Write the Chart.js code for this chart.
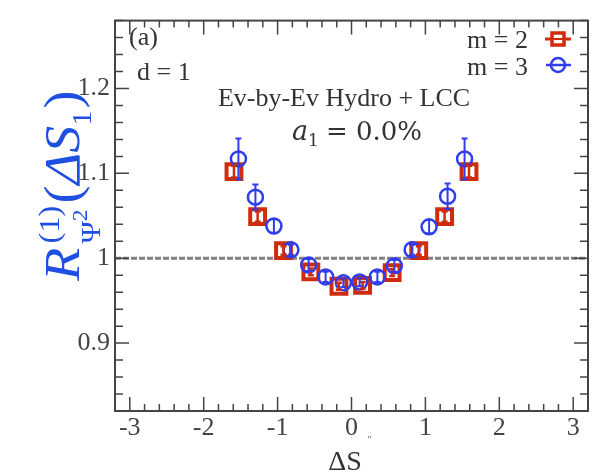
<!DOCTYPE html>
<html>
<head>
<meta charset="utf-8">
<script src="https://cdn.jsdelivr.net/npm/chart.js@4"></script>
<style>
  body { margin: 0; background: #fff; }
  #wrap { width: 603px; height: 476px; }
</style>
</head>
<body>
<div id="wrap"><canvas id="chart" width="603" height="476"></canvas></div>
<script>
// m = 2 (red squares)
const xM2 = [-1.59, -1.27, -0.92, -0.55, -0.17, 0.15, 0.55, 0.91, 1.26, 1.59];
const yM2 = [1.102, 1.049, 1.009, 0.984, 0.967, 0.968, 0.983, 1.009, 1.049, 1.102];
const errM2 = [0.007, 0.006, 0.005, 0.004, 0.004, 0.004, 0.004, 0.005, 0.006, 0.007];
// m = 3 (blue circles)
const xM3 = [-1.53, -1.30, -1.05, -0.82, -0.58, -0.35, -0.11, 0.11, 0.35, 0.58, 0.82, 1.05, 1.30, 1.53];
const yM3 = [1.117, 1.072, 1.038, 1.010, 0.992, 0.978, 0.971, 0.972, 0.978, 0.991, 1.010, 1.037, 1.073, 1.117];
const errM3 = [0.024, 0.015, 0.008, 0.006, 0.007, 0.006, 0.005, 0.005, 0.006, 0.007, 0.006, 0.008, 0.015, 0.024];

const xRange = [-3.2, 3.2];
const yRange = [0.82, 1.28];
const refLine = 1.0;

const RED = '#cf2c0c';
const BLUE = '#2f3cf0';
const AXIS = '#444';
const SERIF = "'Liberation Serif', 'Times New Roman', serif";
const MATH = "'DejaVu Serif', serif";

function toPoints(xs, ys) {
    return xs.map((x, i) => ({ x: x, y: ys[i] }));
}

// frame, inner ticks, dashed reference line
const framePlugin = {
    id: 'frame',
    beforeDatasetsDraw(chart) {
        const { ctx, chartArea: a, scales } = chart;
        const yp = scales.y.getPixelForValue(refLine);
        ctx.save();
        ctx.strokeStyle = '#808080';
        ctx.lineWidth = 3;
        ctx.setLineDash([6, 2]);
        ctx.beginPath();
        ctx.moveTo(a.left, yp);
        ctx.lineTo(a.right, yp);
        ctx.stroke();
        ctx.restore();
    },
    afterDraw(chart) {
        const { ctx, chartArea: a, scales } = chart;
        ctx.save();
        ctx.strokeStyle = AXIS;
        ctx.lineWidth = 2;
        ctx.strokeRect(a.left, a.top, a.right - a.left, a.bottom - a.top);
        ctx.lineWidth = 1.5;
        ctx.beginPath();
        for (let i = -16; i <= 16; i++) {
            const v = i * 0.2;
            const px = scales.x.getPixelForValue(v);
            const len = (i % 5 === 0) ? 14 : 7;
            ctx.moveTo(px, a.bottom); ctx.lineTo(px, a.bottom - len);
            ctx.moveTo(px, a.top); ctx.lineTo(px, a.top + len);
        }
        for (let i = 41; i <= 64; i++) {
            const v = i * 0.02;
            const py = scales.y.getPixelForValue(v);
            const len = (i % 5 === 0) ? 14 : 8;
            ctx.moveTo(a.left, py); ctx.lineTo(a.left + len, py);
            ctx.moveTo(a.right, py); ctx.lineTo(a.right - len, py);
        }
        ctx.stroke();
        ctx.restore();
    }
};

// vertical error bars drawn through the markers
const errorBarPlugin = {
    id: 'errorBars',
    afterDatasetsDraw(chart) {
        const { ctx, scales } = chart;
        const sets = [[xM2, yM2, errM2, RED, 2.5], [xM3, yM3, errM3, BLUE, 2]];
        ctx.save();
        sets.forEach(([xs, ys, es, col, w]) => {
            ctx.strokeStyle = col;
            ctx.lineWidth = w;
            xs.forEach((x, i) => {
                const px = scales.x.getPixelForValue(x);
                const top = scales.y.getPixelForValue(ys[i] + es[i]);
                const bot = scales.y.getPixelForValue(ys[i] - es[i]);
                ctx.beginPath();
                ctx.moveTo(px, top); ctx.lineTo(px, bot);
                ctx.moveTo(px - 3, top); ctx.lineTo(px + 3, top);
                ctx.moveTo(px - 3, bot); ctx.lineTo(px + 3, bot);
                ctx.stroke();
            });
        });
        ctx.restore();
    }
};

// annotations, legend and axis titles
const textPlugin = {
    id: 'texts',
    afterDraw(chart) {
        const ctx = chart.ctx;
        ctx.save();
        ctx.fillStyle = '#333';
        ctx.textBaseline = 'alphabetic';
        ctx.font = '26px ' + SERIF;
        ctx.textAlign = 'left';
        ctx.fillText('(a)', 129, 45);
        ctx.fillText('d = 1', 137, 80);
        ctx.textAlign = 'center';
        ctx.fillText('Ev-by-Ev Hydro + LCC', 344, 106);

        // a1 = 0.0%
        ctx.textAlign = 'left';
        ctx.font = 'italic 27px ' + MATH;
        let x = 292;
        ctx.fillText('a', x, 140);
        x += ctx.measureText('a').width;
        ctx.font = '17px ' + MATH;
        ctx.fillText('1', x, 146);
        x += ctx.measureText('1').width + 7;
        ctx.font = '26px ' + MATH;
        ctx.fillText('= 0.0%', x, 140);

        // legend
        ctx.font = '26px ' + SERIF;
        ctx.textAlign = 'right';
        ctx.fillText('m = 2', 528, 48);
        ctx.fillText('m = 3', 528, 75);
        ctx.lineWidth = 3;
        ctx.strokeStyle = RED;
        ctx.beginPath(); ctx.moveTo(545, 39); ctx.lineTo(571, 39); ctx.stroke();
        ctx.fillStyle = '#fff';
        ctx.fillRect(552, 33, 12, 12);
        ctx.lineWidth = 3.5;
        ctx.strokeRect(552, 33, 12, 12);
        ctx.lineWidth = 2;
        ctx.beginPath(); ctx.moveTo(552, 39); ctx.lineTo(564, 39); ctx.stroke();
        ctx.strokeStyle = BLUE;
        ctx.lineWidth = 2.5;
        ctx.beginPath(); ctx.moveTo(546, 65); ctx.lineTo(571, 65); ctx.stroke();
        ctx.beginPath(); ctx.arc(558, 65, 7, 0, Math.PI * 2); ctx.stroke();

        // x title
        ctx.fillStyle = '#333';
        ctx.textAlign = 'center';
        ctx.font = '28px ' + SERIF;
        ctx.fillText('\u0394S', 345, 470);
        ctx.font = 'italic 10px ' + SERIF;
        ctx.fillStyle = '#666';
        ctx.fillText('\u2033', 369, 443);

        // y title, rotated
        ctx.fillStyle = '#1f4fe0';
        ctx.translate(79, 283);
        ctx.rotate(-Math.PI / 2);
        ctx.scale(1.08, 1);
        ctx.textAlign = 'left';
        let u = 2;
        ctx.font = 'italic 50px ' + SERIF;
        ctx.fillText('R', u, 0);
        u += ctx.measureText('R').width + 4;
        ctx.font = '30px ' + SERIF;
        ctx.fillText('(1)', u, -20);
        const supW = ctx.measureText('(1)').width;
        ctx.font = '28px ' + SERIF;
        ctx.fillText('\u03A8', u, 21);
        let subW = ctx.measureText('\u03A8').width;
        ctx.font = '22px ' + SERIF;
        ctx.fillText('2', u + subW, 8);
        subW += ctx.measureText('2').width;
        u += Math.max(supW, subW) + 2;
        ctx.font = '50px ' + SERIF;
        ctx.fillText('(', u, 0);
        u += ctx.measureText('(').width + 1;
        ctx.font = 'italic 50px ' + SERIF;
        ctx.fillText('\u0394S', u, 0);
        u += ctx.measureText('\u0394S').width;
        ctx.font = '28px ' + SERIF;
        ctx.fillText('1', u, 12);
        u += ctx.measureText('1').width + 2;
        ctx.font = '50px ' + SERIF;
        ctx.fillText(')', u, 0);
        ctx.restore();
    }
};

new Chart(document.getElementById('chart'), {
    type: 'scatter',
    data: {
        datasets: [
            {
                label: 'm = 2',
                data: toPoints(xM2, yM2),
                pointStyle: 'rect',
                pointRadius: 10.5,
                borderWidth: 4,
                borderColor: RED,
                backgroundColor: 'rgba(255,255,255,0.85)',
                order: 2
            },
            {
                label: 'm = 3',
                data: toPoints(xM3, yM3),
                pointStyle: 'circle',
                pointRadius: 7.5,
                borderWidth: 2.5,
                borderColor: BLUE,
                backgroundColor: 'rgba(255,255,255,0)',
                order: 1
            }
        ]
    },
    options: {
        responsive: false,
        animation: false,
        events: [],
        layout: { padding: { top: 15, right: 15, left: 0, bottom: 0 } },
        plugins: {
            legend: { display: false },
            tooltip: { enabled: false }
        },
        scales: {
            x: {
                type: 'linear',
                min: xRange[0],
                max: xRange[1],
                afterFit(scale) { scale.height = 65; },
                grid: { display: false, drawTicks: false },
                border: { display: false },
                ticks: {
                    stepSize: 1,
                    includeBounds: false,
                    padding: 2,
                    color: AXIS,
                    font: { family: SERIF, size: 26 },
                    maxRotation: 0,
                    callback: v => String(v)
                }
            },
            y: {
                type: 'linear',
                min: yRange[0],
                max: yRange[1],
                afterFit(scale) { scale.width = 115; },
                grid: { display: false, drawTicks: false },
                border: { display: false },
                ticks: {
                    stepSize: 0.1,
                    includeBounds: false,
                    padding: 5,
                    color: AXIS,
                    font: { family: SERIF, size: 26 },
                    callback: v => String(+v.toFixed(2))
                }
            }
        }
    },
    plugins: [framePlugin, errorBarPlugin, textPlugin]
});
</script>
</body>
</html>
